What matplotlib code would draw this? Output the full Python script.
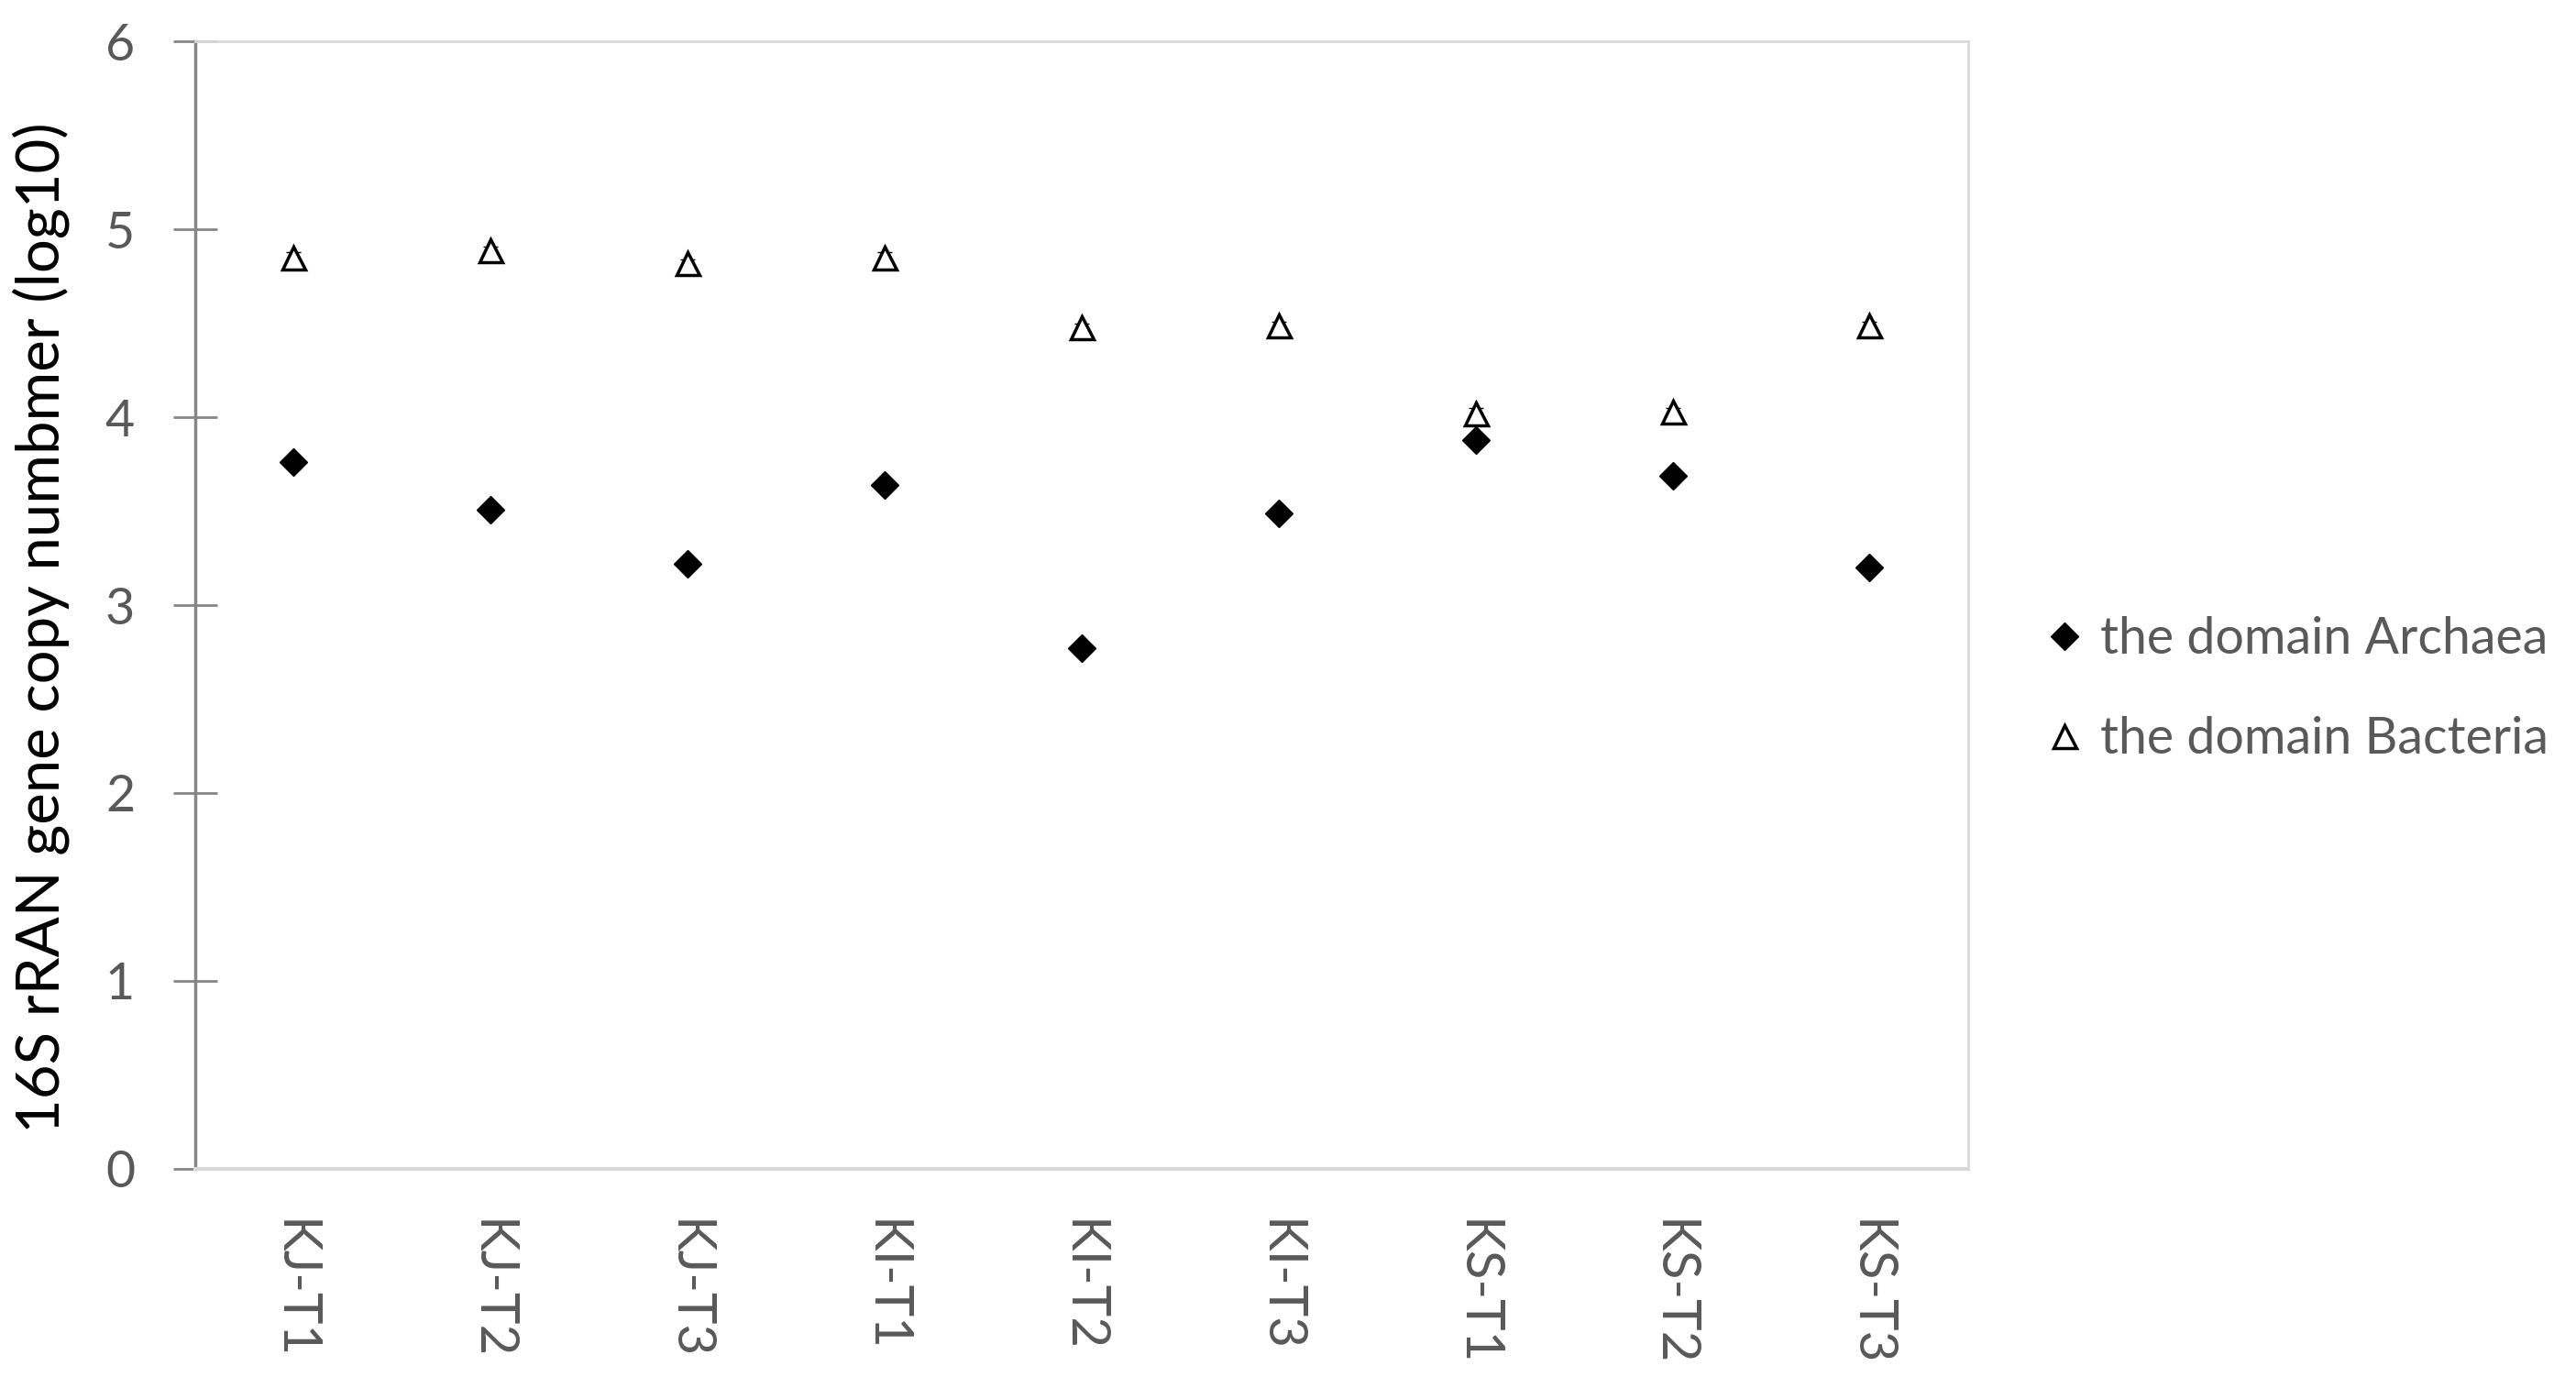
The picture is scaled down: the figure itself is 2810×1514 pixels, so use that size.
import numpy as np
import matplotlib
matplotlib.use("Agg")
import matplotlib.pyplot as plt

# sample sites
sites = ["KJ-T1", "KJ-T2", "KJ-T3", "KI-T1", "KI-T2", "KI-T3", "KS-T1", "KS-T2", "KS-T3"]

# log10 16S copy numbers
archaea = [3.76, 3.51, 3.22, 3.64, 2.77, 3.49, 3.88, 3.69, 3.20]
bacteria = [4.85, 4.89, 4.82, 4.85, 4.48, 4.49, 4.02, 4.03, 4.49]
archaea_err = [0.03, 0.02, 0.02, 0.03, 0.03, 0.02, 0.03, 0.03, 0.02]
bacteria_err = [0.03, 0.02, 0.02, 0.03, 0.02, 0.02, 0.03, 0.02, 0.02]

grey_txt = "#595959"
plt.rcParams['font.family'] = ['Lato', 'DejaVu Sans']

fig = plt.figure(figsize=(28.1, 15.14), dpi=100)
ax = fig.add_axes([0.0758, 0.158, 0.6882, 0.812])

x = np.arange(len(sites))
ax.errorbar(x, archaea, yerr=archaea_err, fmt='none', ecolor='black', elinewidth=1.5, capsize=6, zorder=2)
ax.errorbar(x, bacteria, yerr=bacteria_err, fmt='none', ecolor='black', elinewidth=1.5, capsize=6, zorder=2)
ax.plot(x, archaea, linestyle='none', marker='D', ms=15, color='black', mec='black',
        label="the domain Archaea", zorder=3)
ax.plot(x, bacteria, linestyle='none', marker='^', ms=18, mfc='white', mec='black', mew=2.5,
        label="the domain Bacteria", zorder=3)

ax.set_xlim(-0.5, len(sites) - 0.5)
ax.set_ylim(0, 6)
ax.set_yticks(range(0, 7))
ax.set_xticks(x)
ax.set_xticklabels(sites, rotation=-90, fontsize=42, color=grey_txt)
ax.tick_params(axis='x', length=0, pad=40)
ax.tick_params(axis='y', direction='inout', length=35, width=2, color='#868686',
               labelsize=40, labelcolor=grey_txt, pad=30)
for lab in ax.get_xticklabels():
    lab.set_verticalalignment('top')

ax.spines['left'].set_color('#868686')
ax.spines['left'].set_linewidth(2.5)
ax.spines['bottom'].set_color('#d9d9d9')
ax.spines['bottom'].set_linewidth(3)
ax.spines['top'].set_color('#d9d9d9')
ax.spines['top'].set_linewidth(2)
ax.spines['right'].set_color('#d9d9d9')
ax.spines['right'].set_linewidth(2)

ax.set_ylabel("16S rRAN gene copy numbmer (log10)", fontsize=47, color='black', va='center')
ax.yaxis.set_label_coords(-0.087, 0.48)

ax.legend(loc='center left', bbox_to_anchor=(1.02, 0.425), frameon=False, fontsize=40,
          labelcolor=grey_txt, handlelength=0.6, handletextpad=0.4, labelspacing=1.05)

fig.savefig("out.png", dpi=100)
